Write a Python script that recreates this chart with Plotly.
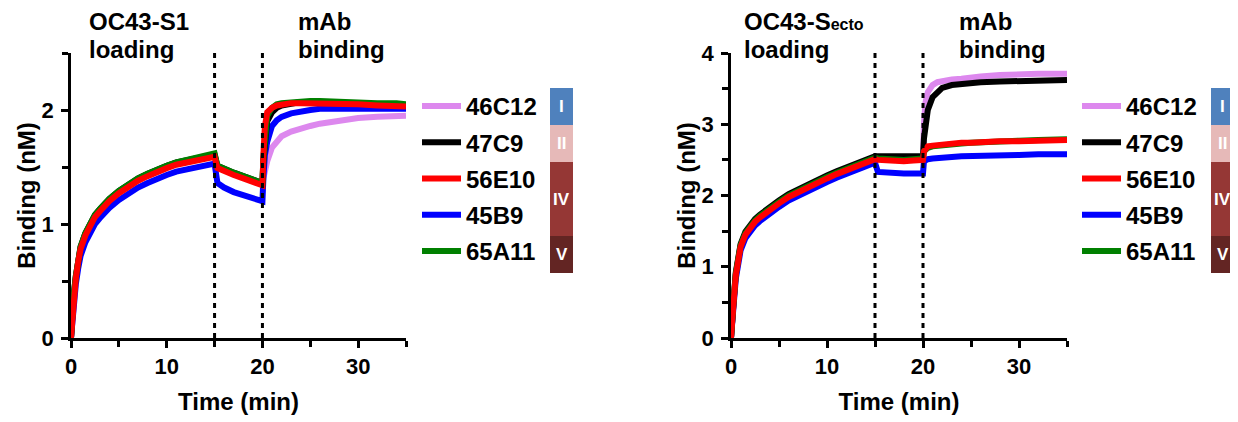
import plotly.graph_objects as go

# ---------------- data ----------------
time_min = [0, 0.1, 0.25, 0.5, 0.75, 1, 1.5, 2, 2.5, 3, 4, 5, 6, 7, 8, 9, 10, 11, 12, 13, 14, 15,
            15.3, 16, 17, 18, 19, 20,
            20.1, 20.25, 20.5, 21, 21.5, 22, 23, 24, 25, 26, 28, 30, 32, 34, 35]

mabs = ["46C12", "47C9", "56E10", "45B9", "65A11"]
mab_colors = ["#dd88ee", "#000000", "#ff0000", "#0000ff", "#008000"]
epitope_class = ["I", "II", "IV", "IV", "V"]
class_colors = {"I": "#4f81bd", "II": "#e6b9b8", "IV": "#953735", "V": "#632523"}
draw_order = ["46C12", "45B9", "47C9", "65A11", "56E10"]

# OC43-S1 panel (nM)
s1 = {
    "46C12": [0, 0.16, 0.34, 0.53, 0.68, 0.79, 0.91, 1.00, 1.07, 1.12, 1.21, 1.28, 1.34, 1.39, 1.43, 1.47, 1.50, 1.53, 1.55, 1.57, 1.59, 1.60,
              1.50, 1.47, 1.44, 1.41, 1.38, 1.35,
              1.40, 1.48, 1.55, 1.67, 1.73, 1.77, 1.81, 1.84, 1.86, 1.88, 1.91, 1.93, 1.94, 1.95, 1.95],
    "47C9": [0, 0.16, 0.35, 0.54, 0.69, 0.80, 0.92, 1.01, 1.08, 1.13, 1.22, 1.29, 1.35, 1.40, 1.44, 1.48, 1.51, 1.54, 1.56, 1.58, 1.60, 1.61,
             1.51, 1.48, 1.45, 1.42, 1.39, 1.36,
             1.55, 1.75, 1.90, 1.98, 2.02, 2.04, 2.06, 2.07, 2.07, 2.07, 2.06, 2.06, 2.05, 2.05, 2.04],
    "56E10": [0, 0.15, 0.33, 0.52, 0.67, 0.78, 0.90, 0.99, 1.06, 1.11, 1.20, 1.27, 1.33, 1.38, 1.42, 1.46, 1.49, 1.52, 1.54, 1.56, 1.58, 1.59,
              1.49, 1.46, 1.43, 1.40, 1.37, 1.34,
              1.60, 1.85, 1.98, 2.02, 2.04, 2.05, 2.06, 2.06, 2.06, 2.06, 2.05, 2.05, 2.04, 2.03, 2.03],
    "45B9": [0, 0.13, 0.29, 0.47, 0.61, 0.72, 0.84, 0.93, 1.00, 1.05, 1.14, 1.21, 1.27, 1.32, 1.36, 1.40, 1.43, 1.46, 1.48, 1.50, 1.52, 1.53,
             1.36, 1.32, 1.28, 1.25, 1.22, 1.20,
             1.40, 1.60, 1.72, 1.86, 1.91, 1.94, 1.97, 1.99, 2.00, 2.01, 2.01, 2.01, 2.01, 2.01, 2.01],
    "65A11": [0, 0.16, 0.35, 0.54, 0.69, 0.80, 0.92, 1.01, 1.08, 1.13, 1.22, 1.29, 1.35, 1.40, 1.44, 1.48, 1.51, 1.54, 1.56, 1.58, 1.60, 1.62,
              1.51, 1.48, 1.45, 1.42, 1.39, 1.36,
              1.58, 1.80, 1.95, 2.02, 2.05, 2.06, 2.07, 2.08, 2.08, 2.08, 2.07, 2.07, 2.06, 2.06, 2.05],
}

# OC43-Secto panel (nM)
secto = {
    "46C12": [0, 0.31, 0.47, 0.89, 1.14, 1.29, 1.46, 1.56, 1.64, 1.70, 1.81, 1.90, 1.99, 2.06, 2.13, 2.19, 2.25, 2.31, 2.36, 2.42, 2.48, 2.52,
              2.52, 2.51, 2.50, 2.50, 2.51, 2.52,
              3.00, 3.30, 3.45, 3.55, 3.59, 3.61, 3.63, 3.64, 3.66, 3.67, 3.69, 3.71, 3.71, 3.71, 3.71],
    "47C9": [0, 0.32, 0.49, 0.92, 1.17, 1.32, 1.49, 1.59, 1.67, 1.73, 1.84, 1.93, 2.02, 2.09, 2.16, 2.22, 2.28, 2.34, 2.39, 2.45, 2.51, 2.55,
             2.55, 2.55, 2.55, 2.55, 2.55, 2.55,
             2.80, 3.00, 3.20, 3.38, 3.46, 3.51, 3.55, 3.57, 3.58, 3.59, 3.60, 3.61, 3.62, 3.62, 3.62],
    "56E10": [0, 0.30, 0.46, 0.88, 1.13, 1.28, 1.45, 1.55, 1.63, 1.69, 1.80, 1.89, 1.98, 2.05, 2.12, 2.18, 2.24, 2.30, 2.35, 2.41, 2.47, 2.51,
              2.50, 2.49, 2.48, 2.48, 2.49, 2.50,
              2.62, 2.66, 2.69, 2.70, 2.71, 2.72, 2.73, 2.74, 2.74, 2.75, 2.76, 2.76, 2.77, 2.78, 2.78],
    "45B9": [0, 0.27, 0.42, 0.83, 1.08, 1.23, 1.40, 1.50, 1.58, 1.64, 1.75, 1.84, 1.93, 2.00, 2.07, 2.13, 2.19, 2.25, 2.30, 2.36, 2.42, 2.46,
             2.33, 2.32, 2.31, 2.31, 2.31, 2.31,
             2.48, 2.50, 2.51, 2.52, 2.53, 2.53, 2.54, 2.55, 2.55, 2.56, 2.56, 2.57, 2.58, 2.58, 2.58],
    "65A11": [0, 0.31, 0.48, 0.90, 1.15, 1.30, 1.47, 1.57, 1.65, 1.71, 1.82, 1.91, 2.00, 2.07, 2.14, 2.20, 2.26, 2.32, 2.37, 2.43, 2.49, 2.53,
              2.52, 2.51, 2.50, 2.50, 2.51, 2.52,
              2.62, 2.65, 2.67, 2.69, 2.70, 2.71, 2.72, 2.73, 2.74, 2.75, 2.76, 2.77, 2.78, 2.79, 2.79],
}

phase_marks = [15, 20]
x_ticks = [0, 10, 20, 30]
y_ticks_s1 = [0, 1, 2]
y_ticks_secto = [0, 1, 2, 3, 4]

# ---------------- figure ----------------
# the page body has an 8 px margin: the figure is drawn 8 px in from the window corner
OFF = 8
W, H = 1238 - OFF, 422 - OFF
FONT = "Liberation Sans, Arial, Helvetica, sans-serif"

def px_x(p):
    return (p - OFF) / W

def px_y(p):
    return 1 - (p - OFF) / H

fig = go.Figure()

panels = [
    dict(data=s1, xa="x", ya="y", legend="legend"),
    dict(data=secto, xa="x2", ya="y2", legend="legend2"),
]

for pnl in panels:
    for name in draw_order:
        i = mabs.index(name)
        fig.add_trace(go.Scatter(
            x=time_min, y=pnl["data"][name], mode="lines", name=name,
            line=dict(color=mab_colors[i], width=6),
            xaxis=pnl["xa"], yaxis=pnl["ya"], legend=pnl["legend"],
            legendrank=i + 1, legendgroup=pnl["legend"] + name,
        ))

axis_common = dict(
    showline=True, linecolor="black", linewidth=2.5, ticks="outside", ticklen=7,
    tickwidth=2.5, tickcolor="black", showgrid=False, zeroline=False, automargin=False,
    tickfont=dict(family=FONT, size=22, color="black", weight="bold"),
    minor=dict(ticks="outside", ticklen=6, tickwidth=2.5, tickcolor="black", showgrid=False),
)

xdomains = [(px_x(71), px_x(406)), (px_x(731), px_x(1067))]
ydomain = (px_y(338), px_y(53))

for k, (yr, yt) in enumerate([((0, 2.5), y_ticks_s1), ((0, 4), y_ticks_secto)]):
    sfx = "" if k == 0 else "2"
    fig.update_layout(**{
        "xaxis" + sfx: dict(axis_common, domain=xdomains[k], range=[0, 35], tickvals=x_ticks,
                            minor=dict(axis_common["minor"], dtick=5, tick0=0),
                            anchor="y" + sfx, ticklabelstandoff=0,
                            title=dict(text="Time (min)", standoff=16,
                                       font=dict(family=FONT, size=24, color="black", weight="bold"))),
        "yaxis" + sfx: dict(axis_common, domain=ydomain, range=list(yr), tickvals=yt,
                            minor=dict(axis_common["minor"], dtick=0.5, tick0=0),
                            anchor="x" + sfx, ticklabelstandoff=3,
                            title=dict(text="Binding (nM)", standoff=0,
                                       font=dict(family=FONT, size=24, color="black", weight="bold"))),
    })
    for xm in phase_marks:
        fig.add_shape(type="line", xref="x" + sfx, yref="y" + sfx + " domain",
                      x0=xm, x1=xm, y0=0, y1=1,
                      line=dict(color="black", width=3, dash="5px,5px"))

# phase annotations
title_font = dict(family=FONT, size=24, color="black", weight="bold")
phase_text = [
    (87, ["OC43-S1", "loading"], 296, ["mAb", "binding"]),
    (742, ["OC43-S<span style='font-size:16px'>ecto</span>", "loading"], 957, ["mAb", "binding"]),
]
for xl, lines_l, xr, lines_r in phase_text:
    for xx, lines in ((xl, lines_l), (xr, lines_r)):
        for j, txt in enumerate(lines):
            fig.add_annotation(xref="paper", yref="paper", x=px_x(xx), y=px_y(21.7 + 28 * j),
                               xanchor="left", yanchor="middle", text=txt, showarrow=False,
                               font=title_font)

legend_common = dict(
    font=dict(family=FONT, size=24, color="black", weight="bold"),
    bgcolor="rgba(0,0,0,0)", borderwidth=0, tracegroupgap=2, itemwidth=39,
    traceorder="grouped", xanchor="left", yanchor="top",
)
fig.update_layout(
    legend=dict(legend_common, x=px_x(417), y=px_y(84)),
    legend2=dict(legend_common, x=px_x(1077), y=px_y(84)),
)

# epitope class bars
row_h = 37
top = 88
for bx in (550, 1211):
    j = 0
    while j < len(epitope_class):
        c = epitope_class[j]
        n = 1
        while j + n < len(epitope_class) and epitope_class[j + n] == c:
            n += 1
        y0, y1 = top + row_h * j, top + row_h * (j + n)
        fig.add_shape(type="rect", xref="paper", yref="paper",
                      x0=px_x(bx), x1=px_x(bx + 23), y0=px_y(y1), y1=px_y(y0),
                      fillcolor=class_colors[c], line=dict(width=0), layer="above")
        fig.add_annotation(xref="paper", yref="paper", x=px_x(bx + 11.5), y=px_y((y0 + y1) / 2),
                           text=c, showarrow=False, xanchor="center", yanchor="middle",
                           font=dict(family=FONT, size=17, color="white", weight="bold"))
        j += n

fig.update_layout(
    width=W, height=H, margin=dict(l=0, r=0, t=0, b=0),
    paper_bgcolor="white", plot_bgcolor="white", showlegend=True,
)

fig.write_html("out.html")
